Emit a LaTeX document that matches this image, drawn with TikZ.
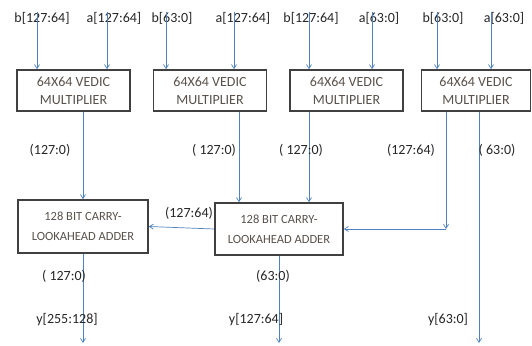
\documentclass[tikz,border=0pt]{standalone}
\usepackage{fontspec}
\setmainfont{Carlito}
\usepackage{tikz}
\usetikzlibrary{arrows.meta,positioning}
\definecolor{WireBlue}{HTML}{4F81BD}
\definecolor{BoxEdge}{HTML}{404040}
\definecolor{BoxText}{HTML}{5A524C}
\definecolor{LabelText}{HTML}{262626}
\tikzset{
  multbox/.style={draw=BoxEdge,line width=1.6pt,fill=white,align=center,minimum width=113pt,minimum height=41pt,text=BoxText,font=\fontsize{14}{18}\selectfont,inner sep=0pt},
  addbox/.style={multbox,font=\fontsize{12.5}{20}\selectfont},
  wire/.style={-{Straight Barb[length=4pt,width=5pt]},draw=WireBlue,line width=0.7pt},
  sig/.style={text=LabelText,font=\fontsize{14}{16}\selectfont,inner sep=0pt}
}
\begin{document}
\begin{tikzpicture}[x=1pt,y=-1pt]
  \useasboundingbox (0,0) rectangle (532,345);
  % multipliers
  \node[multbox] (mulA) at (73.5,90.5) {64X64 VEDIC\\MULTIPLIER};
  \node[multbox] (mulB) at (210,90.5) {64X64 VEDIC\\MULTIPLIER};
  \node[multbox] (mulC) at (346.5,90.5) {64X64 VEDIC\\MULTIPLIER};
  \node[multbox,minimum width=109pt] (mulD) at (476,90.5) {64X64 VEDIC\\MULTIPLIER};
  % adders
  \node[addbox,minimum width=130pt,minimum height=53pt] (addHi) at (83,226.5) {128 BIT CARRY-\\LOOKAHEAD ADDER};
  \node[addbox,minimum width=128pt,minimum height=52pt] (addLo) at (279,229) {128 BIT CARRY-\\LOOKAHEAD ADDER};
  % input labels
  \node[sig] (inA1) at (42,18) {b[127:64]};
  \node[sig] (inA2) at (114,18) {a[127:64]};
  \node[sig] (inB1) at (172,18) {b[63:0]};
  \node[sig] (inB2) at (243,18) {a[127:64]};
  \node[sig] (inC1) at (311,18) {b[127:64]};
  \node[sig] (inC2) at (379,18) {a[63:0]};
  \node[sig] (inD1) at (443,18) {b[63:0]};
  \node[sig] (inD2) at (504,18) {a[63:0]};
  \foreach \i/\x/\m in {A1/37/mulA,A2/107/mulA,B1/166/mulB,B2/234/mulB,C1/309/mulC,C2/372/mulC,D1/437/mulD,D2/491/mulD}
    \draw[wire] (\x,12) coordinate (p\i) -- (p\i |- \m.north);
  % products
  \coordinate (oA) at (83,0);
  \coordinate (oB) at (239,0);
  \coordinate (oC) at (309,0);
  \coordinate (oD) at (446,0);
  \coordinate (oE) at (479,0);
  \draw[wire] (oA |- mulA.south) -- (oA |- addHi.north);
  \draw[wire] (oB |- mulB.south) -- (oB |- addLo.north);
  \draw[wire] (oC |- mulC.south) -- (oC |- addLo.north);
  \draw[wire] (oD |- mulD.south) -- (oD |- addLo.east) coordinate (turn);
  \draw[wire] (turn) -- (addLo.east);
  \draw[wire] (oE |- mulD.south) -- (479,343) coordinate (outLo);
  \draw[wire] (addLo.west) -- (addHi.east);
  \draw[wire] (addHi.south) -- (83,343) coordinate (outHi);
  \draw[wire] (addLo.south) -- (279,343) coordinate (outMid);
  % bit-range labels
  \node[sig] (rA) at (50,150) {(127:0)};
  \node[sig] (rB) at (214,150) {( 127:0)};
  \node[sig] (rC) at (301,150) {( 127:0)};
  \node[sig] (rD) at (411,150) {(127:64)};
  \node[sig] (rE) at (497,150) {( 63:0)};
  \node[sig] (rCarry) at (189,213) {(127:64)};
  \node[sig] (rHi) at (64,276) {( 127:0)};
  \node[sig] (rMid) at (273,276) {(63:0)};
  \node[sig] (yHi) at (67,320) {y[255:128]};
  \node[sig] (yMid) at (256,320) {y[127:64]};
  \node[sig] (yLo) at (448,320) {y[63:0]};
\end{tikzpicture}
\end{document}
